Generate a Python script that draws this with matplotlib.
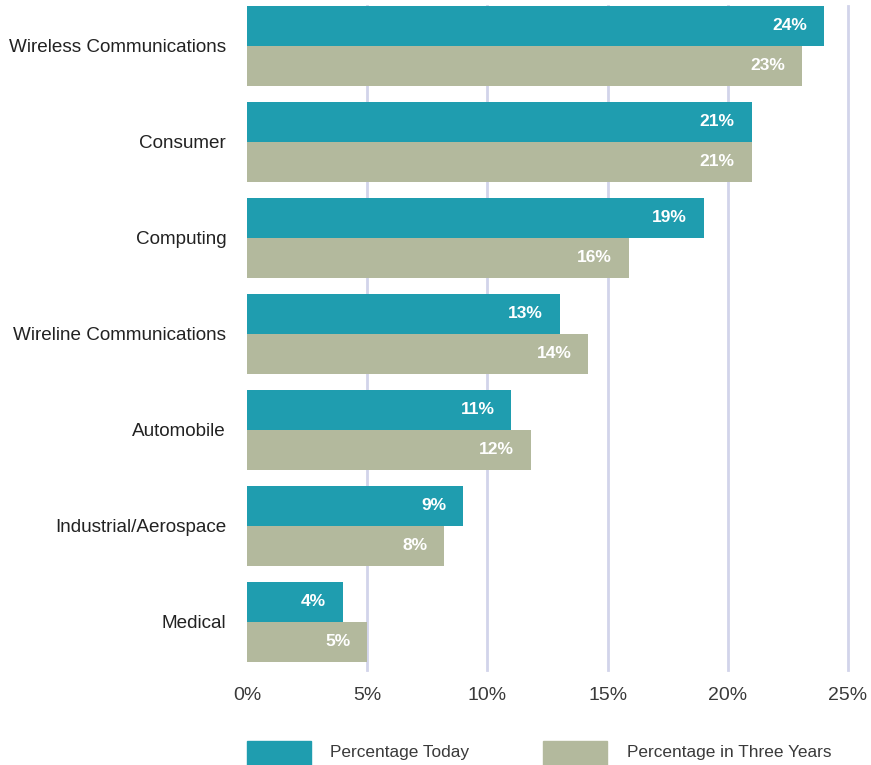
import numpy as np
import matplotlib.pyplot as plt
from matplotlib.patches import Rectangle

plt.rcParams['font.family'] = ['Liberation Sans', 'DejaVu Sans']

categories = ["Wireless Communications", "Consumer", "Computing",
              "Wireline Communications", "Automobile", "Industrial/Aerospace",
              "Medical"]
today = [24.0, 21.0, 19.0, 13.0, 11.0, 9.0, 4.0]
three_years = [23.1, 21.0, 15.9, 14.2, 11.8, 8.2, 5.0]
xticks = [0, 5, 10, 15, 20, 25]
series_names = ["Percentage Today", "Percentage in Three Years"]

teal = "#1f9daf"
sage = "#b3b99d"
grid_col = "#d2d4ea"

W, H = 871, 765
fig = plt.figure(figsize=(W / 100, H / 100), dpi=100)
ax = fig.add_axes([247 / W, (H - 670) / H, (848 - 247) / W, 664 / H])

y = np.arange(len(categories))
bh = 40 / 96
ax.barh(y - bh / 2, today, height=bh, color=teal, zorder=2)
ax.barh(y + bh / 2, three_years, height=bh, color=sage, zorder=2)

# value labels inside the bar ends
for yi, v in zip(y, today):
    ax.annotate(f"{v:.0f}%", (v, yi - bh / 2), xytext=(-17, 0),
                textcoords="offset pixels", ha="right", va="center",
                color="white", fontsize=12.5, fontweight="bold", zorder=3)
for yi, v in zip(y, three_years):
    ax.annotate(f"{v:.0f}%", (v, yi + bh / 2), xytext=(-17, 0),
                textcoords="offset pixels", ha="right", va="center",
                color="white", fontsize=12.5, fontweight="bold", zorder=3)

ax.set_xlim(0, 25)
ax.set_ylim(6.5, -bh)
ax.set_xticks(xticks)
ax.set_xticklabels([f"{t}%" for t in xticks], fontsize=14, color="#3a3a3a")
ax.set_yticks(y)
ax.set_yticklabels(categories, fontsize=13.6, color="#222222")
ax.tick_params(axis="x", length=0, pad=12)
ax.tick_params(axis="y", length=0, pad=15)
for t in xticks[1:]:
    ax.axvline(t, color=grid_col, lw=2, zorder=1, clip_on=False)
for s in ax.spines.values():
    s.set_visible(False)

# legend drawn along the bottom edge
for x0, x_txt, col, name in [(247, 330, teal, series_names[0]),
                             (543, 627, sage, series_names[1])]:
    fig.add_artist(Rectangle((x0 / W, 0), 64 / W, 24 / H,
                             transform=fig.transFigure, color=col))
    fig.text(x_txt / W, (H - 753) / H, name, ha="left", va="center",
             fontsize=12.4, color="#3a3a3a")

fig.savefig("out.png", dpi=100)
